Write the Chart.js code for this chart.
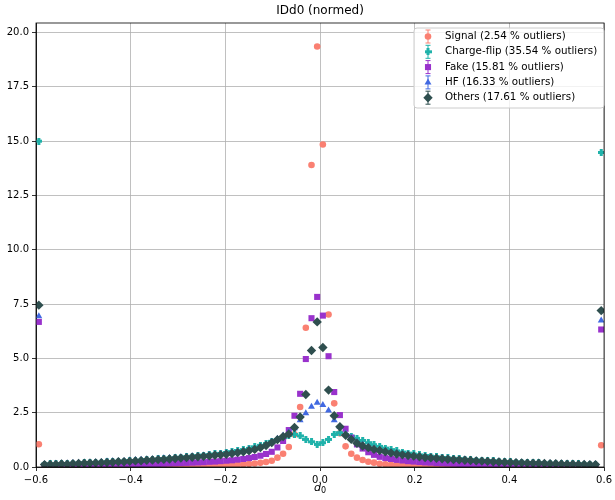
<!DOCTYPE html>
<html>
<head>
<meta charset="utf-8">
<script src="https://cdn.jsdelivr.net/npm/chart.js@4.4.1/dist/chart.umd.min.js"></script>
<style>
  html, body { margin: 0; padding: 0; background: #fff; }
</style>
</head>
<body>
<canvas id="IDd0Chart" width="615" height="500"></canvas>
<script>
// binning of d0 (100 bins between -0.6 and 0.6, outliers go into the edge bins)
const nBins = 100;
const xLow = -0.6;
const xHigh = 0.6;

const xTicks = [-0.6, -0.4, -0.2, 0.0, 0.2, 0.4, 0.6];
const yTicks = [0, 2.5, 5, 7.5, 10, 12.5, 15, 17.5, 20];

const labels = [
  'Signal (2.54 % outliers)',
  'Charge-flip (35.54 % outliers)',
  'Fake (15.81 % outliers)',
  'HF (16.33 % outliers)',
  'Others (17.61 % outliers)'
];

// normed bin contents
const signal = [
  1.05, 0.01, 0.01, 0.01, 0.01, 0.01, 0.01, 0.01, 0.01, 0.01,
  0.01, 0.01, 0.01, 0.01, 0.01, 0.02, 0.02, 0.02, 0.02, 0.02,
  0.02, 0.03, 0.03, 0.03, 0.03, 0.03, 0.04, 0.04, 0.04, 0.05,
  0.05, 0.06, 0.07, 0.08, 0.09, 0.10, 0.12, 0.14, 0.16, 0.19,
  0.23, 0.29, 0.43, 0.61, 0.92, 1.50, 2.76, 6.41, 13.90, 19.36,
  14.85, 7.02, 2.93, 1.55, 0.95, 0.61, 0.43, 0.32, 0.24, 0.20,
  0.15, 0.12, 0.10, 0.09, 0.08, 0.07, 0.06, 0.05, 0.05, 0.04,
  0.04, 0.04, 0.03, 0.03, 0.03, 0.03, 0.02, 0.02, 0.02, 0.02,
  0.02, 0.02, 0.02, 0.01, 0.01, 0.01, 0.01, 0.01, 0.01, 0.01,
  0.01, 0.01, 0.01, 0.01, 0.01, 0.01, 0.01, 0.01, 0.01, 1.00
];
const chargeFlip = [
  15.0, 0.13, 0.14, 0.14, 0.15, 0.16, 0.17, 0.18, 0.19, 0.20,
  0.21, 0.22, 0.24, 0.25, 0.26, 0.27, 0.29, 0.30, 0.32, 0.34,
  0.35, 0.37, 0.39, 0.41, 0.43, 0.45, 0.47, 0.50, 0.52, 0.55,
  0.57, 0.60, 0.63, 0.67, 0.71, 0.76, 0.80, 0.86, 0.93, 1.00,
  1.08, 1.18, 1.27, 1.35, 1.45, 1.50, 1.43, 1.27, 1.16, 1.04,
  1.12, 1.27, 1.50, 1.58, 1.50, 1.42, 1.32, 1.22, 1.12, 1.03,
  0.95, 0.87, 0.80, 0.74, 0.69, 0.64, 0.60, 0.56, 0.53, 0.50,
  0.47, 0.44, 0.42, 0.40, 0.38, 0.36, 0.34, 0.32, 0.31, 0.29,
  0.28, 0.26, 0.25, 0.24, 0.23, 0.22, 0.21, 0.20, 0.19, 0.18,
  0.17, 0.16, 0.16, 0.15, 0.14, 0.14, 0.13, 0.12, 0.12, 14.48
];
const fake = [
  6.68, 0.03, 0.04, 0.04, 0.04, 0.05, 0.05, 0.05, 0.06, 0.06,
  0.07, 0.07, 0.08, 0.08, 0.09, 0.09, 0.10, 0.11, 0.11, 0.12,
  0.13, 0.14, 0.15, 0.16, 0.17, 0.18, 0.19, 0.20, 0.21, 0.22,
  0.24, 0.25, 0.27, 0.29, 0.31, 0.34, 0.37, 0.41, 0.46, 0.52,
  0.60, 0.70, 0.90, 1.20, 1.70, 2.36, 3.37, 4.97, 6.85, 7.83,
  6.97, 5.10, 3.45, 2.39, 1.76, 1.35, 1.04, 0.85, 0.68, 0.56,
  0.47, 0.41, 0.37, 0.33, 0.30, 0.27, 0.25, 0.23, 0.21, 0.20,
  0.18, 0.17, 0.16, 0.15, 0.14, 0.13, 0.12, 0.11, 0.11, 0.10,
  0.09, 0.09, 0.08, 0.08, 0.07, 0.07, 0.06, 0.06, 0.06, 0.05,
  0.05, 0.05, 0.04, 0.04, 0.04, 0.04, 0.03, 0.03, 0.03, 6.33
];
const hf = [
  6.94, 0.13, 0.14, 0.15, 0.16, 0.16, 0.18, 0.19, 0.20, 0.21,
  0.22, 0.23, 0.25, 0.26, 0.27, 0.28, 0.30, 0.32, 0.33, 0.35,
  0.36, 0.38, 0.40, 0.41, 0.43, 0.45, 0.47, 0.49, 0.51, 0.53,
  0.55, 0.58, 0.60, 0.63, 0.66, 0.70, 0.74, 0.79, 0.85, 0.93,
  1.03, 1.16, 1.30, 1.45, 1.60, 1.78, 2.15, 2.47, 2.77, 2.96,
  2.85, 2.60, 2.15, 1.85, 1.55, 1.35, 1.15, 1.02, 0.93, 0.85,
  0.79, 0.73, 0.68, 0.63, 0.59, 0.56, 0.53, 0.50, 0.47, 0.45,
  0.43, 0.41, 0.39, 0.37, 0.35, 0.34, 0.32, 0.30, 0.29, 0.28,
  0.26, 0.25, 0.24, 0.23, 0.22, 0.21, 0.20, 0.19, 0.19, 0.18,
  0.17, 0.16, 0.16, 0.15, 0.15, 0.14, 0.14, 0.13, 0.13, 6.74
];
const others = [
  7.45, 0.11, 0.12, 0.12, 0.14, 0.13, 0.15, 0.16, 0.17, 0.18,
  0.19, 0.20, 0.21, 0.22, 0.24, 0.24, 0.26, 0.28, 0.29, 0.31,
  0.32, 0.34, 0.35, 0.37, 0.39, 0.41, 0.43, 0.45, 0.47, 0.49,
  0.51, 0.54, 0.56, 0.59, 0.62, 0.66, 0.70, 0.75, 0.81, 0.89,
  0.99, 1.12, 1.26, 1.40, 1.52, 1.82, 2.30, 3.34, 5.36, 6.68,
  5.50, 3.54, 2.36, 1.85, 1.46, 1.27, 1.09, 0.97, 0.89, 0.81,
  0.76, 0.70, 0.65, 0.60, 0.56, 0.53, 0.50, 0.47, 0.44, 0.42,
  0.40, 0.38, 0.36, 0.34, 0.33, 0.31, 0.30, 0.28, 0.27, 0.26,
  0.24, 0.23, 0.22, 0.21, 0.20, 0.19, 0.18, 0.17, 0.17, 0.16,
  0.15, 0.15, 0.14, 0.13, 0.13, 0.12, 0.12, 0.11, 0.11, 7.20
];

const binWidth = (xHigh - xLow) / nBins;
const binCenters = [];
for (let i = 0; i < nBins; i++) binCenters.push(xLow + (i + 0.5) * binWidth);

// filled plus marker ('P' in matplotlib)
function plusMarker(color) {
  const c = document.createElement('canvas');
  c.width = 7; c.height = 7;
  const g = c.getContext('2d');
  g.fillStyle = color;
  g.fillRect(2, 0, 3, 7);
  g.fillRect(0, 2, 7, 3);
  return c;
}

const colors = ['#fa8072', '#20b2aa', '#9932cc', '#4169e1', '#2f4f4f'];
const styles = ['circle', plusMarker(colors[1]), 'rect', 'triangle', 'rectRot'];
const radii = [3.3, 3.5, 4.3, 4.0, 4.7];
const values = [signal, chargeFlip, fake, hf, others];

const datasets = values.map((vals, s) => ({
  label: labels[s],
  data: vals.map((v, i) => ({ x: binCenters[i], y: v })),
  backgroundColor: colors[s],
  borderColor: colors[s],
  borderWidth: 0,
  pointStyle: styles[s],
  pointRadius: radii[s],
  showLine: false,
  order: 5 - s
}));

const fmt = v => {
  const r = Math.round(v * 10) / 10;
  return (r < 0 ? '\u2212' : '') + Math.abs(r).toFixed(1);
};

const decorations = {
  id: 'decorations',
  afterDraw(chart) {
    const ctx = chart.ctx;
    const a = chart.chartArea;
    ctx.save();
    // frame
    ctx.strokeStyle = '#000';
    ctx.lineWidth = 0.8;
    ctx.strokeRect(a.left, a.top, a.right - a.left, a.bottom - a.top);

    // title
    ctx.fillStyle = '#000';
    ctx.font = '12px "DejaVu Sans"';
    ctx.textAlign = 'center';
    ctx.textBaseline = 'middle';
    ctx.fillText('IDd0 (normed)', (a.left + a.right) / 2, 11);

    // x label d_0
    const cx = (a.left + a.right) / 2;
    ctx.font = 'italic 11px "DejaVu Sans"';
    ctx.textAlign = 'right';
    ctx.fillText('d', cx + 1, 488);
    ctx.font = '8px "DejaVu Sans"';
    ctx.textAlign = 'left';
    ctx.fillText('0', cx + 1, 491);

    // legend
    const lx = 414, ly = 28, lw = 190, lh = 80;
    ctx.beginPath();
    ctx.roundRect(lx, ly, lw, lh, 3);
    ctx.fillStyle = 'rgba(255,255,255,0.8)';
    ctx.fill();
    ctx.strokeStyle = '#cccccc';
    ctx.lineWidth = 1;
    ctx.stroke();
    ctx.font = '10.3px "DejaVu Sans"';
    ctx.textBaseline = 'middle';
    ctx.textAlign = 'left';
    labels.forEach((lab, s) => {
      const y = 36.5 + s * 15.3;
      const mx = 428;
      ctx.strokeStyle = colors[s];
      ctx.lineWidth = 1;
      ctx.beginPath();
      ctx.moveTo(mx, y - 6.5); ctx.lineTo(mx, y + 6.5);
      ctx.moveTo(mx - 2.5, y - 6.5); ctx.lineTo(mx + 2.5, y - 6.5);
      ctx.moveTo(mx - 2.5, y + 6.5); ctx.lineTo(mx + 2.5, y + 6.5);
      ctx.stroke();
      ctx.fillStyle = colors[s];
      Chart.helpers.drawPoint(ctx, { pointStyle: styles[s], radius: radii[s], borderWidth: 0, rotation: 0 }, mx, y);
      ctx.fillStyle = '#000';
      ctx.fillText(lab, 445, y);
    });
    ctx.restore();
  }
};

new Chart(document.getElementById('IDd0Chart'), {
  type: 'scatter',
  data: { datasets: datasets },
  options: {
    responsive: false,
    animation: false,
    layout: { padding: { top: 23, right: 10, left: 0, bottom: 0 } },
    plugins: { legend: { display: false }, tooltip: { enabled: false } },
    scales: {
      x: {
        type: 'linear',
        min: xLow,
        max: xHigh,
        afterBuildTicks: s => { s.ticks = xTicks.map(v => ({ value: v })); },
        afterFit: s => { s.height = 33; },
        grid: { color: '#b0b0b0', lineWidth: 0.8, tickLength: 4, tickColor: '#000', tickWidth: 0.8 },
        border: { color: '#000', width: 0.8 },
        ticks: { color: '#000', font: { family: 'DejaVu Sans', size: 10 }, padding: 3, maxRotation: 0, callback: v => fmt(v) }
      },
      y: {
        type: 'linear',
        min: 0,
        max: 20.44,
        afterBuildTicks: s => { s.ticks = yTicks.map(v => ({ value: v })); },
        afterFit: s => { s.width = 36; },
        grid: { color: '#b0b0b0', lineWidth: 0.8, tickLength: 4, tickColor: '#000', tickWidth: 0.8 },
        border: { color: '#000', width: 0.8 },
        ticks: { color: '#000', font: { family: 'DejaVu Sans', size: 10 }, padding: 3, callback: v => v.toFixed(1) }
      }
    }
  },
  plugins: [decorations]
});
</script>
</body>
</html>
